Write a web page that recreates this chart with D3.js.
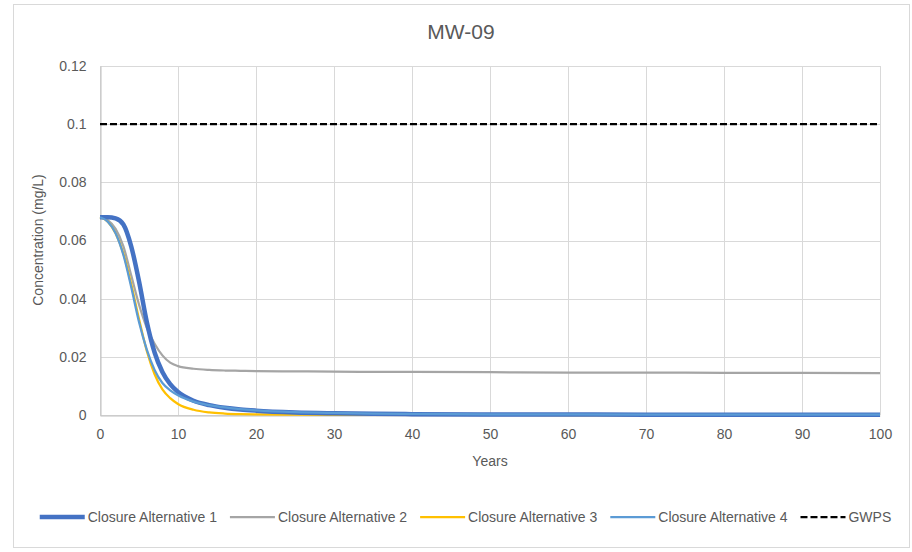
<!DOCTYPE html>
<html><head><meta charset="utf-8">
<script src="https://cdn.jsdelivr.net/npm/d3@7"></script>
<style>body{margin:0;background:#fff;}svg{display:block;font-family:"Liberation Sans",Arial,sans-serif;}</style>
</head><body><svg id="c" width="912" height="552"></svg>
<script>
const title = "MW-09";
const years = [0,1,2,3,4,5,6,7,8,9,10,12,14,16,18,20,25,30,35,40,50,60,70,80,90,100];
const alt1 = [0.068,0.068,0.0676,0.0655,0.058,0.046,0.032,0.0215,0.0148,0.0106,0.0079,0.0049,0.0034,0.0025,0.0019,0.0015,0.0009,0.0006,0.0004,0.0003,0.0002,0.00015,0.0001,0.0001,0.0001,0.0001];
const alt2 = [0.068,0.067,0.064,0.058,0.048,0.038,0.030,0.0245,0.0205,0.018,0.0168,0.0159,0.0155,0.0153,0.0152,0.0151,0.0150,0.0149,0.01485,0.0148,0.0147,0.0146,0.0146,0.0145,0.0145,0.0144];
const alt3 = [0.068,0.0665,0.0625,0.0555,0.045,0.033,0.022,0.014,0.0088,0.0058,0.0038,0.0018,0.0009,0.0005,0.0003,0.0002,0.0001,0.00005,0.00003,0.00002,0.00001,0,0,0,0,0];
const alt4 = [0.068,0.0665,0.0625,0.055,0.044,0.032,0.0225,0.0155,0.011,0.0085,0.0068,0.0046,0.0034,0.0026,0.002,0.0016,0.001,0.0007,0.0005,0.0004,0.00025,0.00018,0.00013,0.0001,0.0001,0.0001];
const gwps = [0.1,0.1];
const gwpsYears = [0,100];
const xTicks = [0,10,20,30,40,50,60,70,80,90,100];
const yTicks = [0,0.02,0.04,0.06,0.08,0.1,0.12];
const seriesNames = ["Closure Alternative 1","Closure Alternative 2","Closure Alternative 3","Closure Alternative 4","GWPS"];

const styles = [
  {color:"#4472C4", width:4.5, dash:null},
  {color:"#A5A5A5", width:2.25, dash:null},
  {color:"#FFC000", width:2.25, dash:null},
  {color:"#5B9BD5", width:2.25, dash:null},
  {color:"#000000", width:2.25, dash:"7,3"}
];

const svg = d3.select("#c");
const textColor = "#595959";
svg.append("rect").attr("x",13.5).attr("y",4.5).attr("width",896).attr("height",543)
  .attr("fill","#fff").attr("stroke","#D9D9D9");

const x = d3.scaleLinear().domain([0,100]).range([100,880]);
const y = d3.scaleLinear().domain([0,0.12]).range([415,66]);

// gridlines
svg.append("g").selectAll("line").data(yTicks).join("line")
  .attr("x1",x(0)).attr("x2",x(100)).attr("y1",d=>Math.round(y(d))+0.5).attr("y2",d=>Math.round(y(d))+0.5)
  .attr("stroke","#D9D9D9").attr("stroke-width",1);
svg.append("g").selectAll("line").data(xTicks).join("line")
  .attr("y1",y(0)).attr("y2",y(0.12)).attr("x1",d=>Math.round(x(d))+0.5).attr("x2",d=>Math.round(x(d))+0.5)
  .attr("stroke","#D9D9D9").attr("stroke-width",1);

// axes
const xAxis = d3.axisBottom(x).tickValues(xTicks).tickSize(0).tickPadding(14).tickFormat(d3.format("d"));
const gx = svg.append("g").attr("transform",`translate(0,${Math.round(y(0))+0.5})`).call(xAxis);
gx.select(".domain").attr("stroke","#BFBFBF");
gx.selectAll("text").attr("fill",textColor).attr("font-size",14).attr("font-family","Liberation Sans, Arial");

const yAxis = d3.axisLeft(y).tickValues(yTicks).tickSize(0).tickPadding(14).tickFormat(d=>d===0?"0":String(+d.toFixed(2)));
const gy = svg.append("g").attr("transform",`translate(${Math.round(x(0))+0.5},0)`).call(yAxis);
gy.select(".domain").attr("stroke","#BFBFBF");
gy.selectAll("text").attr("fill",textColor).attr("font-size",14).attr("font-family","Liberation Sans, Arial");

// lines
const line = d3.line().x(d=>x(d[0])).y(d=>y(d[1])).curve(d3.curveMonotoneX);
const seriesData = [alt1,alt2,alt3,alt4].map(arr=>years.map((yr,i)=>[yr,arr[i]]));
seriesData.push(gwpsYears.map((yr,i)=>[yr,gwps[i]]));
const order = [1,2,0,3,4];
order.forEach(i=>{
  svg.append("path").datum(seriesData[i]).attr("d",line)
    .attr("fill","none").attr("stroke",styles[i].color).attr("stroke-width",styles[i].width)
    .attr("stroke-dasharray",styles[i].dash).attr("stroke-linejoin","round");
});

// title
svg.append("text").attr("x",461).attr("y",39).attr("text-anchor","middle")
  .attr("font-size",21).attr("fill",textColor).text(title);
// axis titles
svg.append("text").attr("x",490).attr("y",466).attr("text-anchor","middle")
  .attr("font-size",14).attr("fill",textColor).text("Years");
svg.append("text").attr("transform",`translate(43,240) rotate(-90)`).attr("text-anchor","middle")
  .attr("font-size",14).attr("fill",textColor).text("Concentration (mg/L)");

// legend
const lg = svg.append("g");
const lineLen = 45, gapA = 3, gapB = 13, legY = 517;
let cx = 0;
seriesNames.forEach((name,i)=>{
  const g = lg.append("g");
  g.append("line").attr("x1",cx).attr("x2",cx+lineLen).attr("y1",legY).attr("y2",legY)
    .attr("stroke",styles[i].color).attr("stroke-width",i===0?4.5:2.25).attr("stroke-dasharray",styles[i].dash);
  const t = g.append("text").attr("x",cx+lineLen+gapA).attr("y",legY+5).attr("font-size",14)
    .attr("fill",textColor).text(name);
  const w = t.node().getComputedTextLength();
  cx += lineLen+gapA+w+gapB;
});
const total = cx - gapB;
lg.attr("transform",`translate(${(45+886)/2 - total/2},0)`);
</script></body></html>
